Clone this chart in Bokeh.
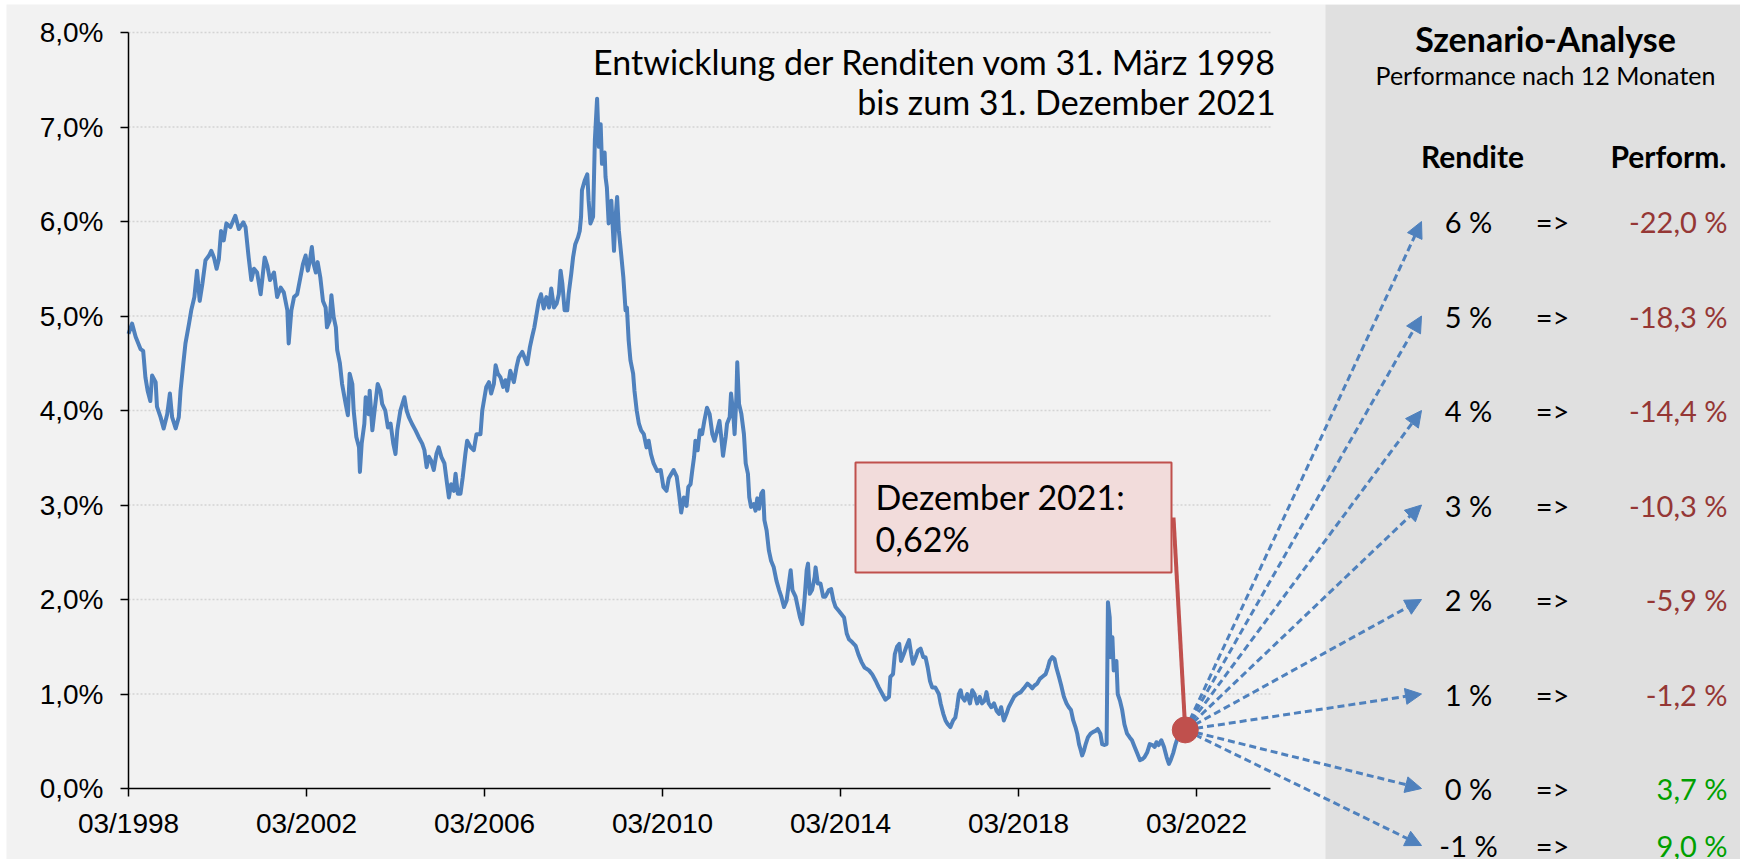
from bokeh.plotting import figure
from bokeh.models import Range1d, FixedTicker, BoxAnnotation, Arrow, NormalHead
from bokeh.core.properties import value
from bokeh.embed import file_html
from bokeh.resources import INLINE

# ---------------- data ----------------
dates = [
    1998.25, 1998.33, 1998.41, 1998.52, 1998.58, 1998.63, 1998.68, 1998.74, 1998.78, 1998.86,
    1998.89, 1998.97, 1999.04, 1999.12, 1999.18, 1999.23, 1999.31, 1999.38, 1999.42, 1999.48,
    1999.53, 1999.61, 1999.66, 1999.73, 1999.79, 1999.85, 1999.91, 1999.98, 2000.06, 2000.11,
    2000.17, 2000.23, 2000.28, 2000.33, 2000.39, 2000.45, 2000.54, 2000.65, 2000.73, 2000.83,
    2000.88, 2000.95, 2001.01, 2001.07, 2001.14, 2001.22, 2001.31, 2001.37, 2001.43, 2001.52,
    2001.59, 2001.67, 2001.74, 2001.82, 2001.85, 2001.91, 2001.97, 2002.04,
    2002.17, 2002.23, 2002.28, 2002.32, 2002.37, 2002.41, 2002.46, 2002.50, 2002.56, 2002.62,
    2002.68, 2002.71, 2002.77, 2002.81, 2002.86, 2002.91, 2002.94, 2003.00, 2003.05, 2003.13,
    2003.18, 2003.22, 2003.28, 2003.31, 2003.37, 2003.43, 2003.45, 2003.49, 2003.55, 2003.58,
    2003.65, 2003.67, 2003.73, 2003.78, 2003.85, 2003.91, 2003.95, 2004.02, 2004.08, 2004.14,
    2004.20, 2004.25, 2004.29, 2004.36, 2004.45, 2004.50, 2004.55, 2004.62, 2004.70, 2004.77,
    2004.85, 2004.90, 2004.95, 2005.00, 2005.05, 2005.11, 2005.17, 2005.22, 2005.28, 2005.35,
    2005.41, 2005.45, 2005.50, 2005.56, 2005.60, 2005.65, 2005.71, 2005.76, 2005.82, 2005.86,
    2005.94, 2006.01, 2006.07,
    2006.16, 2006.20, 2006.25, 2006.29, 2006.35, 2006.40, 2006.46, 2006.50, 2006.55, 2006.61,
    2006.67, 2006.72, 2006.76, 2006.83, 2006.91, 2006.97, 2007.02, 2007.10, 2007.15, 2007.21,
    2007.27, 2007.32, 2007.37, 2007.42, 2007.47, 2007.52, 2007.58, 2007.64, 2007.70, 2007.75,
    2007.81, 2007.87, 2007.92, 2007.96, 2008.00, 2008.05, 2008.11, 2008.14, 2008.20, 2008.24,
    2008.29, 2008.35, 2008.39, 2008.42, 2008.44, 2008.50, 2008.56, 2008.59, 2008.63, 2008.69,
    2008.73, 2008.78, 2008.82, 2008.86, 2008.89, 2008.95, 2008.97, 2009.00, 2009.04, 2009.10,
    2009.16, 2009.19, 2009.23, 2009.27, 2009.32, 2009.37, 2009.42, 2009.45, 2009.49, 2009.53,
    2009.59, 2009.62, 2009.67, 2009.72, 2009.77, 2009.83, 2009.89, 2009.94, 2009.99, 2010.05,
    2010.13,
    2010.21, 2010.27, 2010.34, 2010.39, 2010.45, 2010.50, 2010.57, 2010.62, 2010.67, 2010.73,
    2010.79, 2010.83, 2010.88, 2010.92, 2010.96, 2010.99, 2011.04, 2011.09, 2011.14, 2011.19,
    2011.25, 2011.31, 2011.37, 2011.42, 2011.48, 2011.53, 2011.57, 2011.61, 2011.67, 2011.70,
    2011.76, 2011.79, 2011.84, 2011.87, 2011.91, 2011.93, 2011.97, 2012.02, 2012.08, 2012.12,
    2012.17, 2012.20, 2012.24, 2012.30, 2012.34, 2012.38, 2012.42, 2012.47, 2012.51, 2012.54,
    2012.59, 2012.64, 2012.69, 2012.75, 2012.81, 2012.87, 2012.92, 2012.98, 2013.04, 2013.09,
    2013.13, 2013.17, 2013.24, 2013.29, 2013.34, 2013.39, 2013.44, 2013.49, 2013.52, 2013.56,
    2013.61, 2013.67, 2013.69, 2013.74, 2013.80, 2013.86, 2013.91, 2013.99, 2014.04, 2014.09,
    2014.14, 2014.21,
    2014.33, 2014.39, 2014.44, 2014.51, 2014.59, 2014.66, 2014.72, 2014.79, 2014.89, 2014.96,
    2015.04, 2015.11, 2015.19, 2015.26, 2015.34, 2015.37, 2015.43, 2015.47, 2015.52, 2015.57,
    2015.61, 2015.67, 2015.73, 2015.79, 2015.84, 2015.88, 2015.94, 2015.99, 2016.05, 2016.11,
    2016.16, 2016.21, 2016.26, 2016.31, 2016.38, 2016.46, 2016.50, 2016.56, 2016.61, 2016.66,
    2016.72, 2016.78, 2016.83, 2016.87, 2016.91, 2016.95, 2016.98, 2017.04, 2017.10, 2017.16,
    2017.21, 2017.26, 2017.32, 2017.38, 2017.43, 2017.49, 2017.53, 2017.58, 2017.64, 2017.70,
    2017.76, 2017.81, 2017.86, 2017.92, 2017.98, 2018.03,
    2018.15, 2018.22, 2018.30, 2018.37, 2018.45, 2018.50, 2018.56, 2018.61, 2018.67, 2018.73,
    2018.78, 2018.86, 2018.91, 2018.95, 2019.01, 2019.06, 2019.10, 2019.16, 2019.21, 2019.27,
    2019.33, 2019.38, 2019.43, 2019.48, 2019.53, 2019.57, 2019.61, 2019.64, 2019.68, 2019.72,
    2019.76, 2019.81, 2019.87, 2019.93, 2019.98, 2020.03, 2020.09, 2020.13, 2020.18, 2020.23,
    2020.26, 2020.30, 2020.32, 2020.36, 2020.39, 2020.45, 2020.48, 2020.53, 2020.58, 2020.63,
    2020.69, 2020.75, 2020.80, 2020.86, 2020.92, 2020.98, 2021.03, 2021.08, 2021.14, 2021.20,
    2021.26, 2021.31, 2021.35, 2021.40, 2021.46, 2021.52, 2021.58, 2021.63, 2021.67, 2021.73,
    2021.78, 2021.83, 2021.89, 2021.997,
]
rendite = [
    4.81, 4.92, 4.78, 4.65, 4.63, 4.35, 4.21, 4.10, 4.37, 4.30,
    4.04, 3.93, 3.81, 3.96, 4.18, 3.93, 3.81, 3.93, 4.21, 4.49,
    4.71, 4.92, 5.06, 5.20, 5.48, 5.16, 5.34, 5.59, 5.64, 5.69,
    5.62, 5.50, 5.60, 5.90, 5.80, 5.98, 5.94, 6.06, 5.92, 5.99,
    5.94, 5.62, 5.38, 5.50, 5.46, 5.23, 5.62, 5.53, 5.38, 5.46,
    5.20, 5.30, 5.25, 5.06, 4.71, 5.06, 5.20, 5.23,
    5.55, 5.64, 5.48, 5.57, 5.73, 5.55, 5.46, 5.57, 5.41, 5.16,
    5.09, 4.88, 4.95, 5.22, 4.99, 4.88, 4.64, 4.50, 4.28, 4.07,
    3.95, 4.39, 4.28, 4.00, 3.72, 3.61, 3.35, 3.65, 3.86, 4.14,
    3.96, 4.21, 3.79, 4.00, 4.28, 4.21, 4.07, 4.00, 3.82, 3.86,
    3.65, 3.54, 3.79, 4.00, 4.14, 4.00, 3.93, 3.86, 3.79, 3.72,
    3.65, 3.58, 3.40, 3.51, 3.47, 3.37, 3.54, 3.61, 3.51, 3.44,
    3.22, 3.08, 3.22, 3.15, 3.33, 3.12, 3.12, 3.29, 3.54, 3.68,
    3.61, 3.58, 3.75,
    3.75, 4.00, 4.14, 4.25, 4.30, 4.18, 4.28, 4.48, 4.39, 4.35,
    4.25, 4.32, 4.21, 4.42, 4.30, 4.46, 4.56, 4.62, 4.56, 4.49,
    4.67, 4.78, 4.88, 5.02, 5.16, 5.23, 5.08, 5.20, 5.09, 5.29,
    5.09, 5.13, 5.23, 5.48, 5.34, 5.06, 5.06, 5.23, 5.45, 5.62,
    5.76, 5.83, 5.90, 6.05, 6.33, 6.43, 6.50, 6.22, 5.98, 6.05,
    6.86, 7.30, 6.79, 7.03, 6.61, 6.73, 6.47, 6.36, 5.98, 6.22,
    5.69, 6.01, 6.26, 5.90, 5.66, 5.41, 5.06, 5.09, 4.74, 4.53,
    4.39, 4.21, 4.00, 3.86, 3.79, 3.75, 3.61, 3.68, 3.54, 3.44,
    3.36,
    3.37, 3.19, 3.15, 3.28, 3.33, 3.37, 3.30, 3.12, 2.92, 3.08,
    2.99, 3.19, 3.22, 3.37, 3.51, 3.68, 3.58, 3.79, 3.75, 3.89,
    4.03, 3.96, 3.75, 3.68, 3.79, 3.89, 3.72, 3.52, 3.72, 3.86,
    3.93, 4.18, 3.97, 3.75, 4.14, 4.51, 4.07, 3.97, 3.75, 3.44,
    3.33, 3.08, 2.98, 3.01, 2.94, 3.07, 2.96, 3.12, 3.15, 2.84,
    2.73, 2.52, 2.41, 2.34, 2.20, 2.10, 2.03, 1.92, 1.99, 2.17,
    2.31, 2.10, 2.03, 1.92, 1.81, 1.74, 1.99, 2.31, 2.38, 2.06,
    2.10, 2.24, 2.34, 2.17, 2.17, 2.03, 2.03, 2.10, 2.11, 1.99,
    1.92, 1.88,
    1.81, 1.64, 1.58, 1.55, 1.51, 1.41, 1.34, 1.28, 1.25, 1.21,
    1.14, 1.07, 1.00, 0.94, 0.97, 1.18, 1.21, 1.42, 1.50, 1.53,
    1.35, 1.42, 1.50, 1.57, 1.42, 1.32, 1.39, 1.46, 1.48, 1.39,
    1.39, 1.28, 1.14, 1.07, 1.07, 1.00, 0.90, 0.79, 0.72, 0.68,
    0.65, 0.72, 0.75, 0.86, 1.00, 1.04, 0.97, 0.93, 1.00, 0.90,
    1.04, 1.00, 0.90, 0.97, 0.90, 0.93, 1.02, 0.90, 0.86, 0.90,
    0.82, 0.79, 0.86, 0.72, 0.79, 0.86,
    0.97, 1.00, 1.02, 1.06, 1.11, 1.09, 1.06, 1.09, 1.11, 1.16,
    1.18, 1.21, 1.28, 1.35, 1.39, 1.37, 1.28, 1.18, 1.09, 0.97,
    0.90, 0.86, 0.83, 0.72, 0.65, 0.58, 0.47, 0.42, 0.35, 0.40,
    0.47, 0.54, 0.58, 0.60, 0.61, 0.63, 0.58, 0.47, 0.46, 0.47,
    1.97, 1.81, 1.39, 1.60, 1.25, 1.35, 1.00, 0.93, 0.83, 0.68,
    0.58, 0.54, 0.51, 0.44, 0.37, 0.30, 0.31, 0.33, 0.38, 0.47,
    0.46, 0.44, 0.49, 0.46, 0.51, 0.44, 0.33, 0.26, 0.30, 0.38,
    0.47, 0.54, 0.58, 0.62,
]

y_ticks = [0, 1, 2, 3, 4, 5, 6, 7, 8]
y_tick_labels = ["0,0%", "1,0%", "2,0%", "3,0%", "4,0%", "5,0%", "6,0%", "7,0%", "8,0%"]
x_ticks = [1998.25, 2002.25, 2006.25, 2010.25, 2014.25, 2018.25, 2022.25]
x_tick_labels = ["03/1998", "03/2002", "03/2006", "03/2010", "03/2014", "03/2018", "03/2022"]
x_axis_max = 2023.92

title_lines = ["Entwicklung der Renditen vom 31. März 1998", "bis zum 31. Dezember 2021"]
callout_lines = ["Dezember 2021:", "0,62%"]

panel_title = "Szenario-Analyse"
panel_subtitle = "Performance nach 12 Monaten"
col_headers = ["Rendite", "Perform."]
szenario_rendite = [6, 5, 4, 3, 2, 1, 0, -1]
szenario_performance = [-22.0, -18.3, -14.4, -10.3, -5.9, -1.2, 3.7, 9.0]

# ---------------- layout (picture pixels -> data units) ----------------
W, H = 1740, 859
FRAME_LEFT, FRAME_TOP = 6, 4
PX_YEAR = 44.5      # pixels per year
PX_PCT = 94.5       # pixels per percentage point
X_REF_PX = 128      # x of the first x tick
Y_ZERO_PX = 788     # y of 0 %


def dx(px):
    return x_ticks[0] + (px - X_REF_PX) / PX_YEAR


def dy(py):
    return (Y_ZERO_PX - py) / PX_PCT


BLUE = "#4f81bd"
RED = "#c0504d"
NEG = "#953735"
POS = "#00a000"
FONT = "Lato"

p = figure(width=W, height=H, output_backend="svg", toolbar_location=None, title=None,
           x_range=Range1d(dx(FRAME_LEFT), dx(W)), y_range=Range1d(dy(H), dy(FRAME_TOP)),
           min_border=0, min_border_left=FRAME_LEFT, min_border_right=0,
           min_border_top=FRAME_TOP, min_border_bottom=0,
           background_fill_color="#f2f2f2", border_fill_color="white",
           outline_line_color=None)
p.grid.visible = False

# right panel background
p.add_layout(BoxAnnotation(left=dx(1325), fill_color="#e0e0e0", fill_alpha=1.0,
                           line_color=None, level="underlay"))

# dotted grid lines from the y ticks
p.segment(x0=[x_ticks[0]] * 8, y0=y_ticks[1:], x1=[x_axis_max] * 8, y1=y_ticks[1:],
          line_color="#d4d4d4", line_width=1.5, line_dash="2 2", level="underlay")

# axes
xa = p.xaxis[0]
xa.fixed_location = 0
xa.bounds = (x_ticks[0], x_axis_max)
xa.ticker = FixedTicker(ticks=x_ticks)
xa.major_label_overrides = dict(zip(x_ticks, x_tick_labels))
ya = p.yaxis[0]
ya.fixed_location = x_ticks[0]
ya.bounds = (y_ticks[0], y_ticks[-1])
ya.ticker = FixedTicker(ticks=y_ticks)
ya.major_label_overrides = dict(zip(y_ticks, y_tick_labels))
for ax, standoff in ((xa, 11), (ya, 17)):
    ax.axis_line_color = "black"
    ax.axis_line_width = 1.5
    ax.major_tick_line_color = "black"
    ax.major_tick_line_width = 1.5
    ax.major_tick_out = 8
    ax.major_tick_in = 0
    ax.minor_tick_line_color = None
    ax.major_label_text_font = "Liberation Sans"
    ax.major_label_text_font_size = "28px"
    ax.major_label_text_color = "black"
    ax.major_label_standoff = standoff

# scenario arrows from the last data point
last_x, last_y = dates[-1], rendite[-1]
row_y = [max(v, dy(845)) for v in szenario_rendite]
for ry in row_y:
    p.add_layout(Arrow(x_start=last_x, y_start=last_y, x_end=dx(1421), y_end=ry,
                       line_color=BLUE, line_width=3, line_dash="7 4",
                       end=NormalHead(size=16, fill_color=BLUE, line_color=BLUE, line_width=1),
                       level="underlay"))

# yield series
p.line(dates, rendite, line_color=BLUE, line_width=4, line_join="round")

# callout
p.quad(left=[dx(855)], right=[dx(1171)], top=[dy(462)], bottom=[dy(572)],
       fill_color="#f2dcdb", line_color=RED, line_width=2)
p.text(x=[dx(875)] * 2, y=[dy(496), dy(538)], text=callout_lines,
       text_font=value(FONT), text_font_size="34px", text_color="black",
       text_align="left", text_baseline="middle")
p.segment(x0=[dx(1173)], y0=[dy(517)], x1=[last_x], y1=[last_y], line_color=RED, line_width=4)
p.scatter([last_x], [last_y], size=26, fill_color=RED, line_color=RED)

# chart title
p.text(x=[dx(1276)] * 2, y=[dy(61), dy(101)], text=title_lines,
       text_font=value(FONT), text_font_size="34px", text_color="black",
       text_align="right", text_baseline="middle")

# scenario panel texts
p.text(x=[dx(1545)], y=[dy(38)], text=[panel_title], text_font=value(FONT),
       text_font_size="34px", text_font_style="bold", text_color="black",
       text_align="center", text_baseline="middle")
p.text(x=[dx(1545)], y=[dy(74)], text=[panel_subtitle], text_font=value(FONT),
       text_font_size="25px", text_color="black", text_align="center",
       text_baseline="middle")
p.text(x=[dx(1472)], y=[dy(155)], text=[col_headers[0]], text_font=value(FONT),
       text_font_size="30px", text_font_style="bold", text_color="black",
       text_align="center", text_baseline="middle")
p.text(x=[dx(1726)], y=[dy(155)], text=[col_headers[1]], text_font=value(FONT),
       text_font_size="30px", text_font_style="bold", text_color="black",
       text_align="right", text_baseline="middle")

n = len(szenario_rendite)
p.text(x=[dx(1468)] * n, y=row_y, text=[f"{v} %" for v in szenario_rendite],
       text_font=value(FONT), text_font_size="29px", text_color="black",
       text_align="center", text_baseline="middle")
p.text(x=[dx(1552)] * n, y=row_y, text=["=>"] * n,
       text_font=value(FONT), text_font_size="29px", text_color="black",
       text_align="center", text_baseline="middle")
perf_text = [f"{v:.1f}".replace(".", ",") + " %" for v in szenario_performance]
perf_color = [NEG if v < 0 else POS for v in szenario_performance]
p.text(x=[dx(1727)] * n, y=row_y, text=perf_text, text_color=perf_color,
       text_font=value(FONT), text_font_size="29px",
       text_align="right", text_baseline="middle")

open("out.html", "w").write(file_html(p, INLINE))
